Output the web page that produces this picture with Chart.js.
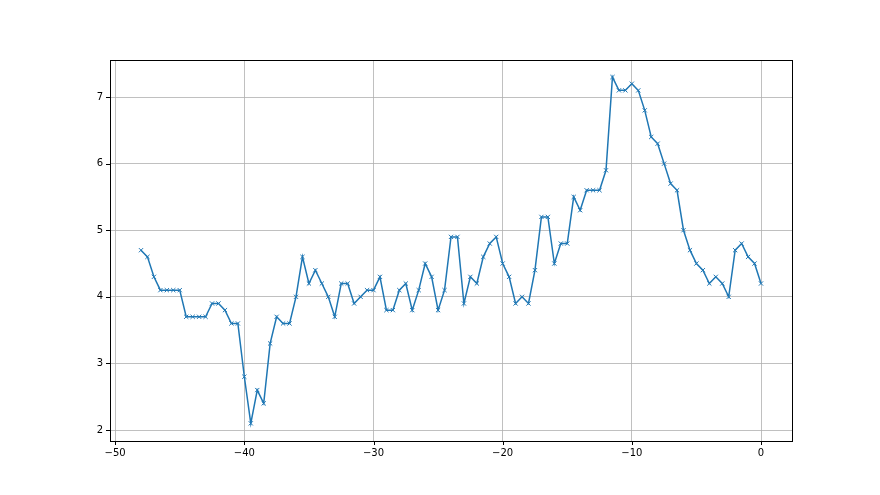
<!DOCTYPE html>
<html>
<head>
<meta charset="utf-8">
<script src="https://cdn.jsdelivr.net/npm/chart.js@4.4.1/dist/chart.umd.min.js"></script>
<style>
  html, body { margin: 0; padding: 0; background: #fff; }
  #wrap { width: 880px; height: 495px; }
</style>
</head>
<body>
<div id="wrap"><canvas id="lineChart" width="880" height="495"></canvas></div>
<script>
// x positions, every half step from -48 to 0
const xValues = [
  -48, -47.5, -47, -46.5, -46, -45.5, -45, -44.5, -44, -43.5,
  -43, -42.5, -42, -41.5, -41, -40.5, -40, -39.5, -39, -38.5,
  -38, -37.5, -37, -36.5, -36, -35.5, -35, -34.5, -34, -33.5,
  -33, -32.5, -32, -31.5, -31, -30.5, -30, -29.5, -29, -28.5,
  -28, -27.5, -27, -26.5, -26, -25.5, -25, -24.5, -24, -23.5,
  -23, -22.5, -22, -21.5, -21, -20.5, -20, -19.5, -19, -18.5,
  -18, -17.5, -17, -16.5, -16, -15.5, -15, -14.5, -14, -13.5,
  -13, -12.5, -12, -11.5, -11, -10.5, -10, -9.5, -9, -8.5,
  -8, -7.5, -7, -6.5, -6, -5.5, -5, -4.5, -4, -3.5,
  -3, -2.5, -2, -1.5, -1, -0.5, 0
];
const yValues = [
  4.7, 4.6, 4.3, 4.1, 4.1, 4.1, 4.1, 3.7, 3.7, 3.7,
  3.7, 3.9, 3.9, 3.8, 3.6, 3.6, 2.8, 2.1, 2.6, 2.4,
  3.3, 3.7, 3.6, 3.6, 4.0, 4.6, 4.2, 4.4, 4.2, 4.0,
  3.7, 4.2, 4.2, 3.9, 4.0, 4.1, 4.1, 4.3, 3.8, 3.8,
  4.1, 4.2, 3.8, 4.1, 4.5, 4.3, 3.8, 4.1, 4.9, 4.9,
  3.9, 4.3, 4.2, 4.6, 4.8, 4.9, 4.5, 4.3, 3.9, 4.0,
  3.9, 4.4, 5.2, 5.2, 4.5, 4.8, 4.8, 5.5, 5.3, 5.6,
  5.6, 5.6, 5.9, 7.3, 7.1, 7.1, 7.2, 7.1, 6.8, 6.4,
  6.3, 6.0, 5.7, 5.6, 5.0, 4.7, 4.5, 4.4, 4.2, 4.3,
  4.2, 4.0, 4.7, 4.8, 4.6, 4.5, 4.2
];
const xTicks = [-50, -40, -30, -20, -10, 0];
const yTicks = [2, 3, 4, 5, 6, 7];

const points = xValues.map((x, i) => ({ x: x, y: yValues[i] }));
const minusSign = v => String(v).replace('-', '\u2212');

// frame around the plot plus black tick marks, like matplotlib
const frame = {
    id: 'frame',
    afterDraw(chart) {
        const c = chart.ctx;
        const a = chart.chartArea;
        c.save();
        c.strokeStyle = '#000';
        c.lineWidth = 1;
        c.strokeRect(Math.round(a.left) + 0.5, Math.round(a.top) + 0.5,
                     Math.round(a.right - a.left), Math.round(a.bottom - a.top));
        c.beginPath();
        xTicks.forEach(t => {
            const px = Math.round(chart.scales.x.getPixelForValue(t)) + 0.5;
            c.moveTo(px, a.bottom);
            c.lineTo(px, a.bottom + 4);
        });
        yTicks.forEach(t => {
            const py = Math.round(chart.scales.y.getPixelForValue(t)) + 0.5;
            c.moveTo(a.left, py);
            c.lineTo(a.left - 4, py);
        });
        c.stroke();
        c.restore();
    }
};

const ctx = document.getElementById('lineChart').getContext('2d');
const chart = new Chart(ctx, {
    type: 'line',
    data: {
        datasets: [{
            data: points,
            borderColor: '#1f77b4',
            backgroundColor: '#1f77b4',
            borderWidth: 1.5,
            pointStyle: 'crossRot',
            pointRadius: 3,
            pointBorderWidth: 1,
            pointBorderColor: '#1f77b4',
            tension: 0,
            fill: false
        }]
    },
    options: {
        responsive: false,
        animation: false,
        layout: {
            padding: { left: 0, top: 60, right: 88, bottom: 30 }
        },
        plugins: {
            legend: { display: false },
            tooltip: { enabled: false }
        },
        scales: {
            x: {
                type: 'linear',
                min: -50.4,
                max: 2.4,
                afterBuildTicks: scale => { scale.ticks = xTicks.map(v => ({ value: v })); },
                afterFit: scale => { scale.height = 24; },
                grid: { color: '#b0b0b0', lineWidth: 0.8, drawTicks: false },
                border: { display: false },
                ticks: {
                    padding: 6,
                    color: '#000',
                    font: { family: 'DejaVu Sans', size: 10 },
                    callback: v => minusSign(v)
                }
            },
            y: {
                type: 'linear',
                min: 1.835,
                max: 7.556,
                afterBuildTicks: scale => { scale.ticks = yTicks.map(v => ({ value: v })); },
                afterFit: scale => { scale.width = 110; },
                grid: { color: '#b0b0b0', lineWidth: 0.8, drawTicks: false },
                border: { display: false },
                ticks: {
                    padding: 7,
                    color: '#000',
                    font: { family: 'DejaVu Sans', size: 10 },
                    callback: v => minusSign(v)
                }
            }
        }
    },
    plugins: [frame]
});
</script>
</body>
</html>
